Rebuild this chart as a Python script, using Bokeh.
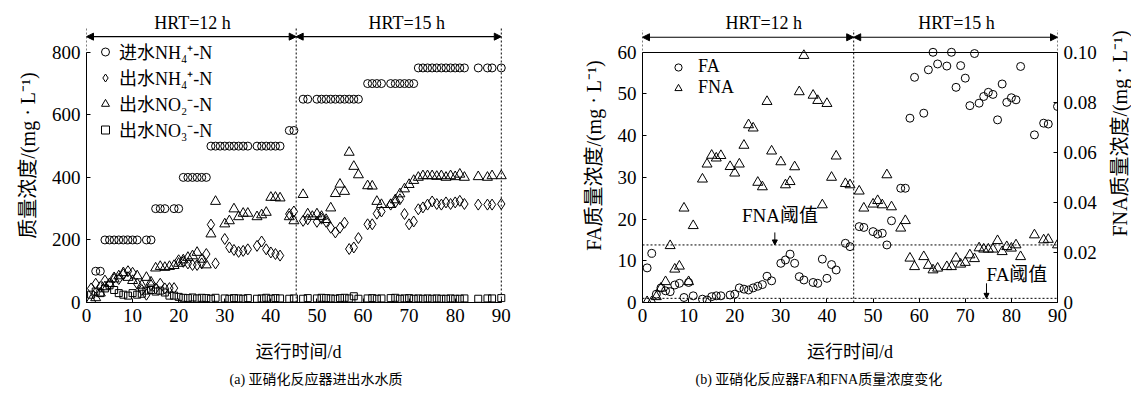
import math
from bokeh.plotting import figure
from bokeh.layouts import row
from bokeh.models import (Range1d, LinearAxis, Legend, LegendItem, Arrow, NormalHead,
                          Title, Label, FixedTicker, CustomJSTickFormatter)
from bokeh.embed import file_html
from bokeh.resources import INLINE

# ---------------- data: panel (a) ----------------
x_ticks = [0, 10, 20, 30, 40, 50, 60, 70, 80, 90]
conc_ticks = [0, 200, 400, 600, 800]
hrt_bounds = [0, 45.5, 90]
hrt_labels = ["HRT=12 h", "HRT=15 h"]

inf_day = [2, 3, 4, 5, 6, 7, 8, 9, 10, 11, 13, 14, 15, 16, 17, 19, 20,
           21, 22, 23, 24, 25, 26, 27, 28, 29, 30, 31, 32, 33, 34, 35,
           37, 38, 39, 40, 41, 42, 44, 45, 47, 48, 50, 51, 52, 53, 54, 55, 56, 57, 58, 59,
           61, 62, 63, 64, 66, 67, 68, 69, 70, 71,
           72, 73, 74, 75, 76, 77, 78, 79, 80, 81, 82, 85, 87, 88, 90]
inf_nh4 = [100, 100, 200, 200, 200, 200, 200, 200, 200, 200, 200, 200, 300, 300, 300, 300, 300,
           400, 400, 400, 400, 400, 400, 500, 500, 500, 500, 500, 500, 500, 500, 500,
           500, 500, 500, 500, 500, 500, 550, 550, 650, 650, 650, 650, 650, 650, 650, 650, 650, 650, 650, 650,
           700, 700, 700, 700, 700, 700, 700, 700, 700, 700,
           750, 750, 750, 750, 750, 750, 750, 750, 750, 750, 750, 750, 750, 750, 750]

eff_day = [1, 2, 3, 4, 5, 6, 7, 8, 9, 10, 11, 12, 13, 14, 15, 16, 17, 18, 19, 20,
           21, 22, 23, 24, 25, 26, 27, 28, 30, 31, 32, 33, 34, 35, 37, 38, 39, 40, 41, 42, 44, 45,
           47, 48, 50, 51, 52, 53, 54, 55, 56, 57, 58, 59, 61, 62, 63, 64, 66, 67, 68, 69, 70, 71,
           72, 73, 74, 75, 76, 77, 78, 79, 80, 81, 82, 85, 87, 88, 90]
eff_nh4 = [45, 60, 50, 70, 60, 80, 75, 90, 100, 95, 60, 40, 25, 55, 45, 60, 45, 46, 46, 135,
           130, 125, 120, 120, 125, 155, 249, 125, 203, 176, 168, 162, 165, 170, 181, 195, 170, 160, 155, 150, 283, 291,
           261, 266, 258, 268, 258, 239, 224, 239, 255, 171, 176, 206, 250, 250, 284, 291, 313, 320, 330, 283, 250, 259,
           298, 304, 313, 323, 315, 313, 320, 315, 320, 325, 315, 313, 313, 313, 315]

no2_day = [1, 2, 3, 4, 5, 6, 7, 8, 9, 10, 11, 12, 13, 14, 15, 16, 17, 18, 19, 20,
           21, 22, 23, 24, 25, 26, 27, 28, 30, 31, 32, 33, 34, 35, 37, 38, 39, 40, 41, 42, 44, 45,
           47, 48, 49, 50, 51, 52, 53, 54, 55, 56, 57, 58, 59, 61, 62, 63, 64, 66, 67, 68, 69, 70, 71,
           72, 73, 74, 75, 76, 77, 78, 79, 80, 81, 82, 85, 87, 88, 90]
eff_no2 = [8, 15, 30, 50, 60, 75, 85, 95, 80, 70, 85, 55, 80, 65, 110, 115, 112, 115, 118, 125,
           136, 144, 149, 160, 138, 120, 219, 323, 251, 261, 299, 274, 285, 285, 274, 280, 288, 336, 336, 334, 274, 261,
           345, 283, 275, 283, 275, 265, 302, 348, 378, 355, 480, 435, 408, 373, 372, 323, 313, 313, 328, 347, 363, 377, 390,
           400, 405, 405, 405, 403, 405, 400, 405, 402, 410, 400, 402, 400, 405, 405]

no3_day = eff_day
eff_no3 = [25, 35, 30, 45, 55, 40, 30, 25, 22, 30, 25, 28, 38, 40, 35, 38, 32, 22, 22, 18,
           15, 14, 16, 13, 15, 14, 12, 15, 13, 12, 14, 13, 12, 14, 12, 13, 15, 12, 14, 13, 12, 13,
           12, 14, 13, 15, 14, 13, 12, 14, 15, 13, 20, 12, 13, 14, 12, 13, 14, 15, 12, 13, 14, 12,
           13, 12, 13, 12, 13, 12, 12, 13, 12, 12, 13, 12, 13, 13, 14]

# ---------------- data: panel (b) ----------------
fa_ticks = [0, 10, 20, 30, 40, 50, 60]
fna_ticks = [0, 0.02, 0.04, 0.06, 0.08, 0.10]
fa_threshold = 1.0
fna_threshold = 0.023

fa_day = [1, 2, 3, 4, 5, 6, 7, 8, 9, 10, 11, 13, 14, 15, 16, 17, 19, 20,
          21, 22, 23, 24, 25, 26, 27, 28, 30, 31, 32, 33, 34, 35, 37, 38, 39, 40, 41, 42, 44, 45,
          47, 48, 50, 51, 52, 53, 54, 56, 57, 58, 59, 61, 62, 63, 64, 66, 67, 68, 69, 70, 71,
          72, 73, 74, 75, 76, 77, 78, 79, 80, 81, 82, 85, 87, 88, 90]
fa_val = [8.3, 11.8, 2.0, 3.5, 2.8, 2.6, 4.2, 4.6, 1.2, 4.8, 1.6, 0.8, 0.6, 1.4, 1.6, 1.6, 1.8, 2.0,
          3.5, 3.2, 3.0, 3.5, 3.9, 4.3, 6.3, 5.2, 9.4, 10.2, 11.6, 9.4, 6.2, 5.4, 4.8, 4.6, 10.4, 5.8, 9.1, 7.8, 14.2, 13.4,
          18.2, 18.0, 17.0, 16.4, 16.6, 13.8, 19.6, 27.4, 27.4, 44.2, 54.0, 45.4, 55.8, 60.0, 57.2, 56.7, 60.0, 51.6, 56.8, 53.8, 47.2,
          59.7, 47.8, 49.4, 50.4, 49.9, 43.8, 52.4, 48.0, 49.1, 48.6, 56.6, 40.2, 43.0, 42.8, 47.0]

fna_day = [1, 2, 3, 4, 5, 6, 7, 8, 9, 10, 11, 13, 14, 15, 16, 17, 19, 20,
           21, 22, 23, 24, 25, 26, 27, 28, 30, 31, 32, 33, 34, 35, 37, 38, 39, 40, 41, 42, 44, 45,
           47, 48, 50, 51, 52, 53, 54, 56, 57, 58, 59, 61, 62, 63, 64, 66, 67, 68, 69, 70, 71,
           72, 73, 74, 75, 76, 77, 78, 79, 80, 81, 82, 85, 87, 88, 90]
fna_val = [0.0003, 0.0003, 0.0023, 0.0057, 0.0083, 0.0227, 0.0133, 0.0145, 0.0377, 0.0083, 0.0307,
           0.0493, 0.0553, 0.0588, 0.0577, 0.0587, 0.0543, 0.0517,
           0.0553, 0.0628, 0.0710, 0.0697, 0.0480, 0.0462, 0.0803, 0.0605, 0.0562, 0.0470, 0.0483, 0.0542,
           0.0842, 0.0987, 0.0828, 0.0807, 0.0390, 0.0795, 0.0500, 0.0585, 0.0475, 0.0470,
           0.0445, 0.0377, 0.0393, 0.0407, 0.0390, 0.0510, 0.0382, 0.0297, 0.0327, 0.0177, 0.0143,
           0.0183, 0.0148, 0.0130, 0.0137, 0.0143, 0.0143, 0.0177, 0.0153, 0.0160, 0.0190,
           0.0175, 0.0218, 0.0213, 0.0213, 0.0213, 0.0247, 0.0203, 0.0223, 0.0217, 0.0230, 0.0183,
           0.0270, 0.0250, 0.0252, 0.0230]

# ---------------- styling helpers ----------------
SERIF = "Liberation Serif"
MIXED = "Liberation Serif, Noto Sans CJK SC"
FS = "18px"
TICK_FS = "19px"
LAB_FS = "20px"
BLACK = "black"


def style_axis(ax, ticks, bounds):
    ax.ticker = FixedTicker(ticks=ticks)
    ax.bounds = bounds
    ax.major_tick_in = 4
    ax.major_tick_out = 0
    ax.minor_tick_line_color = None
    ax.axis_line_color = BLACK
    ax.major_tick_line_color = BLACK
    ax.major_label_text_font = SERIF
    ax.major_label_text_font_size = TICK_FS
    ax.major_label_text_color = BLACK
    ax.major_label_standoff = 6
    ax.axis_label_text_font = MIXED
    ax.axis_label_text_font_size = LAB_FS
    ax.axis_label_text_font_style = "normal"
    ax.axis_label_text_color = BLACK


def head():
    return NormalHead(size=7, fill_color=BLACK, line_color=BLACK)


def small_head():
    return NormalHead(size=5, fill_color=BLACK, line_color=BLACK)


MK = dict(line_color=BLACK, fill_color=None, line_width=1)

# ================= panel (a) =================
A_TOP = 940
pa = figure(frame_width=424, frame_height=294, x_range=Range1d(0, 92), y_range=Range1d(0, A_TOP),
            output_backend="svg", toolbar_location=None,
            min_border_left=86, min_border_right=56, min_border_top=8, min_border_bottom=95,
            outline_line_color=None)
pa.grid.visible = False
style_axis(pa.xaxis[0], x_ticks, (0, 90))
style_axis(pa.yaxis[0], conc_ticks, (0, 800))
pa.xaxis[0].axis_label = "运行时间/d"
pa.xaxis[0].axis_label_text_font_size = FS
pa.xaxis[0].axis_label_standoff = 17
pa.yaxis[0].axis_label = "质量浓度/(mg · L⁻¹)"
pa.yaxis[0].axis_label_standoff = 10

r1 = pa.scatter(inf_day, inf_nh4, marker="circle", size=8, **MK)
r2 = pa.scatter(eff_day, eff_nh4, marker="diamond", size=11, **MK)
r3 = pa.scatter(no2_day, eff_no2, marker="triangle", size=10, **MK)
r4 = pa.scatter(no3_day, eff_no3, marker="square", size=7, **MK)

A_LINE_TOP = 880
A_ARROW = 850
a_label_x = [23, 69.5]
pa.segment(x0=hrt_bounds, y0=[0] * 3, x1=hrt_bounds, y1=[A_LINE_TOP] * 3,
           line_color=BLACK, line_dash="2 2", line_width=1)
for i in range(2):
    pa.add_layout(Arrow(x_start=hrt_bounds[i], x_end=hrt_bounds[i + 1], y_start=A_ARROW, y_end=A_ARROW,
                        start=head(), end=head(), line_color=BLACK, line_width=1.2))
    pa.add_layout(Label(x=a_label_x[i], y=A_ARROW + 12, text=hrt_labels[i],
                        text_align="center", text_baseline="bottom", text_font=SERIF,
                        text_font_size=FS, text_color=BLACK))

leg_a = Legend(items=[LegendItem(label="进水NH₄⁺-N", renderers=[r1]),
                      LegendItem(label="出水NH₄⁺-N", renderers=[r2]),
                      LegendItem(label="出水NO₂⁻-N", renderers=[r3]),
                      LegendItem(label="出水NO₃⁻-N", renderers=[r4])],
               location=(9, 160), orientation="vertical",
               label_text_font=MIXED, label_text_font_size=FS, label_text_color=BLACK,
               glyph_width=20, glyph_height=23, label_height=23, spacing=0, padding=0, margin=0,
               label_standoff=4, border_line_color=None, background_fill_color=None)
pa.add_layout(leg_a)
pa.add_layout(Title(text="(a) 亚硝化反应器进出水水质", align="left", offset=143, text_font=MIXED,
                    text_font_size="14px", text_font_style="normal", text_color=BLACK, standoff=10), "below")

# ================= panel (b) =================
B_TOP = 70.5
FNA_SCALE = 600.0
pb = figure(frame_width=415, frame_height=294, x_range=Range1d(0, 90), y_range=Range1d(0, B_TOP),
            output_backend="svg", toolbar_location=None,
            min_border_left=76, min_border_right=44, min_border_top=8, min_border_bottom=95,
            outline_line_color=None)
pb.grid.visible = False
pb.extra_y_ranges = {"fna": Range1d(0, B_TOP / FNA_SCALE)}
style_axis(pb.xaxis[0], x_ticks, (0, 90))
style_axis(pb.yaxis[0], fa_ticks, (0, 60))
pb.xaxis[0].axis_label = "运行时间/d"
pb.xaxis[0].axis_label_text_font_size = FS
pb.xaxis[0].axis_label_standoff = 17
pb.yaxis[0].axis_label = "FA质量浓度/(mg · L⁻¹)"
pb.yaxis[0].axis_label_standoff = 10

rax = LinearAxis(y_range_name="fna")
style_axis(rax, fna_ticks, (0, 0.1))
rax.formatter = CustomJSTickFormatter(code="return tick == 0 ? '0' : tick.toFixed(2);")
pb.add_layout(rax, "right")

tax = LinearAxis(fixed_location=60)
style_axis(tax, [], (0, 90))
tax.major_tick_in = 0
tax.major_label_text_font_size = "0px"
pb.add_layout(tax, "above")

q1 = pb.scatter(fa_day, fa_val, marker="circle", size=8, **MK)
q2 = pb.scatter(fna_day, fna_val, marker="triangle", size=10, y_range_name="fna", **MK)

B_LINE_TOP = 65.3
B_ARROW = 63.6
b_bounds = [0, 45.8, 90]
b_label_x = [26.3, 68.1]
pb.segment(x0=b_bounds, y0=[0] * 3, x1=b_bounds, y1=[B_LINE_TOP] * 3,
           line_color=BLACK, line_dash="2 2", line_width=1)
for i in range(2):
    pb.add_layout(Arrow(x_start=b_bounds[i], x_end=b_bounds[i + 1], y_start=B_ARROW, y_end=B_ARROW,
                        start=head(), end=head(), line_color=BLACK, line_width=1.2))
    pb.add_layout(Label(x=b_label_x[i], y=B_ARROW + 1.0, text=hrt_labels[i],
                        text_align="center", text_baseline="bottom", text_font=SERIF,
                        text_font_size=FS, text_color=BLACK))

pb.segment(x0=[0], y0=[fa_threshold], x1=[90], y1=[fa_threshold],
           line_color=BLACK, line_dash="2 2", line_width=1)
pb.segment(x0=[0], y0=[fna_threshold], x1=[90], y1=[fna_threshold], y_range_name="fna",
           line_color=BLACK, line_dash="2 2", line_width=1)

pb.add_layout(Label(x=29.8, y=20.8, text="FNA阈值", text_align="center", text_baseline="middle",
                    text_font=MIXED, text_font_size="19px", text_color=BLACK))
pb.add_layout(Arrow(x_start=28.7, x_end=28.7, y_start=16.8, y_end=fna_threshold * FNA_SCALE,
                    end=small_head(), line_color=BLACK, line_width=1))
pb.add_layout(Label(x=81.2, y=6.8, text="FA阈值", text_align="center", text_baseline="middle",
                    text_font=MIXED, text_font_size="19px", text_color=BLACK))
pb.add_layout(Arrow(x_start=74.6, x_end=74.6, y_start=4.6, y_end=fa_threshold,
                    end=small_head(), line_color=BLACK, line_width=1))

leg_b = Legend(items=[LegendItem(label="FA", renderers=[q1]),
                      LegendItem(label="FNA", renderers=[q2])],
               location=(26, 204), orientation="vertical",
               label_text_font=SERIF, label_text_font_size=FS, label_text_color=BLACK,
               glyph_width=20, glyph_height=18, label_height=18, spacing=0, padding=0, margin=0,
               label_standoff=10, border_line_color=None, background_fill_color=None)
pb.add_layout(leg_b)
pb.add_layout(Title(text="(b) 亚硝化反应器FA和FNA质量浓度变化", align="left", offset=53, text_font=MIXED,
                    text_font_size="14px", text_font_style="normal", text_color=BLACK, standoff=10), "below")

# ================= strip holding the right-axis title (reads bottom-to-top) =================
pc = figure(width=30, height=397, x_range=Range1d(0, 1), y_range=Range1d(0, 1),
            x_axis_location=None, y_axis_location=None,
            output_backend="svg", toolbar_location=None, min_border=0, outline_line_color=None)
pc.grid.visible = False
pc.add_layout(Label(x=0.62, y=0.575, angle=math.pi / 2, text="FNA质量浓度/(mg · L⁻¹)",
                    text_align="center", text_baseline="middle",
                    text_font=MIXED, text_font_size=LAB_FS, text_color=BLACK))

layout = row(pa, pb, pc)
open("out.html", "w").write(file_html(layout, INLINE))
